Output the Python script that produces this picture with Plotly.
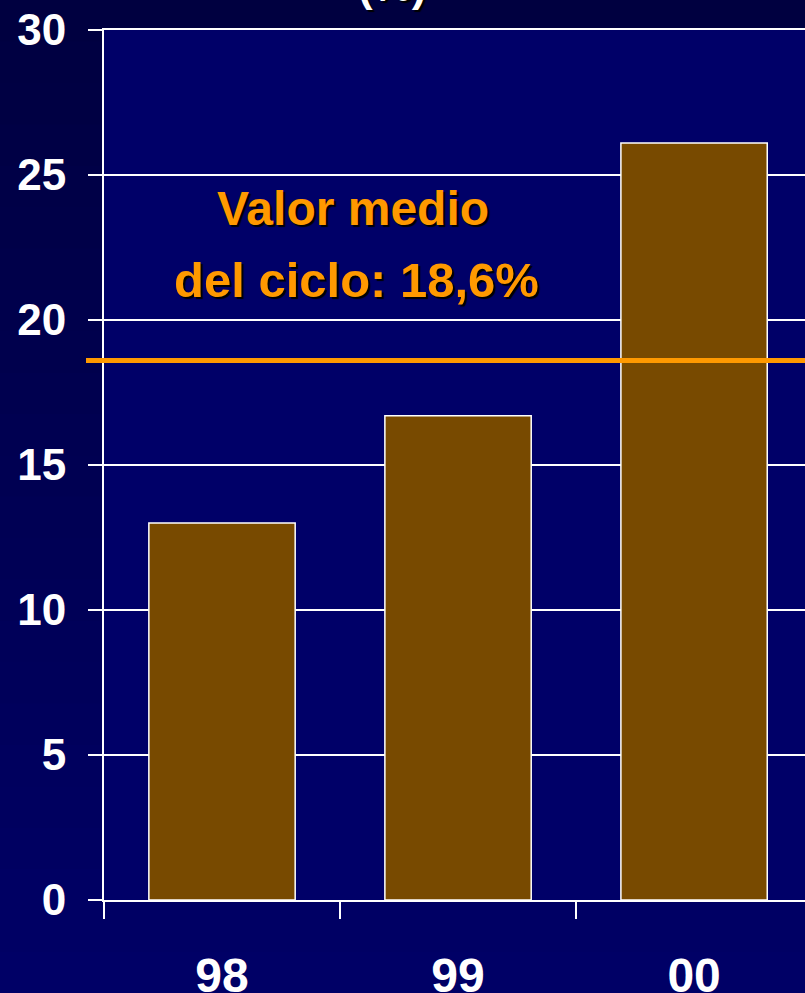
import plotly.graph_objects as go

categories = ["98", "99", "00"]
values = [13.0, 16.7, 26.1]
mean_value = 18.6
y_ticks = [0, 5, 10, 15, 20, 25, 30]
note_lines = ["Valor medio", "del ciclo: 18,6%"]
title_text = "(%)"

W, H = 805, 993
L, R, T, B = 104, 0, 30, 93
plot_h = H - T - B

fig = go.Figure()
fig.add_trace(go.Bar(
    x=categories, y=values, width=0.62,
    marker=dict(color="#784a00", line=dict(color="white", width=1.5)),
    hoverinfo="skip",
))

shapes = []
# vertical paper gradient (dark top -> lighter bottom)
n = 24
y_lo = -B / plot_h
y_hi = 1 + T / plot_h
top_c = (0, 0, 0x40)
bot_c = (0, 0, 0x66)
for i in range(n):
    f = i / (n - 1)
    c = tuple(round(bot_c[k] + (top_c[k] - bot_c[k]) * f) for k in range(3))
    y0 = y_lo + (y_hi - y_lo) * i / n
    y1 = y_lo + (y_hi - y_lo) * (i + 1) / n + 0.002
    shapes.append(dict(type="rect", xref="paper", yref="paper", x0=-0.2, x1=1.1,
                       y0=y0, y1=y1, fillcolor="rgb(%d,%d,%d)" % c,
                       line=dict(width=0), layer="below"))
shapes.append(dict(type="rect", xref="paper", yref="paper", x0=0, x1=1, y0=0, y1=1,
                   fillcolor="#000068", line=dict(width=0), layer="below"))
shapes.append(dict(type="line", xref="paper", yref="y", x0=-18 / 701, x1=1,
                   y0=mean_value, y1=mean_value,
                   line=dict(color="#ff9900", width=5), layer="above"))

shadow = "2px 2px 1px #000000"
ann = [
    dict(text=note_lines[0], x=0.557, y=23.83, xref="x", yref="y", showarrow=False,
         yanchor="middle", xanchor="center",
         font=dict(family="Liberation Sans, Arial", size=48, color="#ff9900",
                   weight="bold", shadow=shadow)),
    dict(text=note_lines[1], x=0.57, y=21.38, xref="x", yref="y", showarrow=False,
         yanchor="middle", xanchor="center",
         font=dict(family="Liberation Sans, Arial", size=49, color="#ff9900",
                   weight="bold", shadow=shadow)),
    dict(text=title_text, x=(392 - L) / 701, y=1 + 44 / plot_h, xref="paper", yref="paper",
         showarrow=False, yanchor="middle", xanchor="center",
         font=dict(family="Liberation Sans, Arial", size=44, color="white",
                   weight="bold", shadow=shadow)),
]

fig.update_layout(
    template="none",
    width=W, height=H,
    margin=dict(l=L, r=R, t=T, b=B, pad=0, autoexpand=False),
    paper_bgcolor="#000066",
    plot_bgcolor="#000068",
    showlegend=False,
    shapes=shapes,
    annotations=ann,
    font=dict(family="Liberation Sans, Arial", color="white"),
    xaxis=dict(
        type="category", range=[-0.5, 2.47], tickson="boundaries",
        ticks="outside", ticklen=17, tickwidth=2, tickcolor="white",
        showgrid=False, showline=True, linecolor="white", linewidth=2, mirror=True,
        tickfont=dict(size=48, color="white", weight="bold", family="Liberation Sans, Arial"),
        ticklabelstandoff=32, fixedrange=True, automargin=False,
    ),
    yaxis=dict(
        range=[0, 30], tickvals=y_ticks, ticktext=[str(v) for v in y_ticks],
        ticks="outside", ticklen=14, tickwidth=2, tickcolor="white",
        showgrid=True, gridcolor="white", gridwidth=2,
        showline=True, linecolor="white", linewidth=2, zeroline=False,
        tickfont=dict(size=44, color="white", weight="bold", family="Liberation Sans, Arial"),
        ticklabelstandoff=13, fixedrange=True, automargin=False,
    ),
)

fig.write_html(
    "out.html",
    config={"displayModeBar": False},
    post_script="document.body.style.margin='0';document.body.style.overflow='hidden';",
)
